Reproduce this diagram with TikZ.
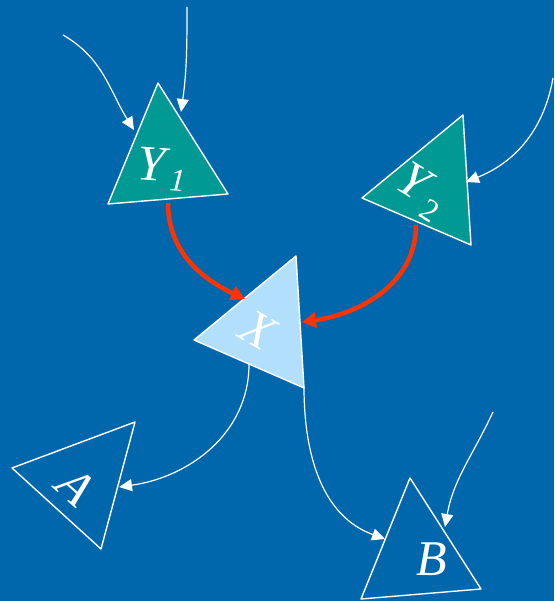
\documentclass[tikz,border=0pt]{standalone}
\usepackage{fontspec}
\setmainfont{Liberation Serif}
\usepackage{tikz}
\usetikzlibrary{calc}
\usetikzlibrary{arrows.meta}

\definecolor{bgblue}{RGB}{0,103,172}
\definecolor{nodeteal}{RGB}{0,153,148}
\definecolor{nodelight}{RGB}{178,223,252}
\definecolor{edgered}{RGB}{255,51,0}

\begin{document}
\begin{tikzpicture}[x=1pt, y=1pt, line join=round,
    tri/.style={draw=white, line width=1.4pt},
    lab/.style={text=white, font=\fontsize{50}{60}\selectfont\itshape, inner sep=0pt},
    wedge/.style={white, line width=1.2pt, -{Triangle[length=13pt,width=12pt]}},
    redge/.style={edgered, line width=4.5pt, -{Triangle[length=14pt,width=15pt]}}]
          \fill[bgblue] (0,0) rectangle (554,601);
          \useasboundingbox (0,0) rectangle (554,601);
          % triangles
          \filldraw[tri, fill=nodeteal] (158,518)--(108,397)--(228,407)--cycle;
          \filldraw[tri, fill=nodeteal] (463,486)--(362,403)--(471,356)--cycle;
          \filldraw[tri, fill=nodelight] (296,345)--(194,261)--(304,213)--cycle;
          \draw[tri] (135,179)--(12,133)--(101,52)--cycle;
          \draw[tri] (410,123)--(361,2)--(481,12)--cycle;
          \node[lab, rotate=-4] (y1) at (162,432) {Y\kern5pt\raisebox{-9pt}{\fontsize{32}{36}\selectfont 1}};
          \node[lab, rotate=-32] (y2) at (421,409) {Y\kern8pt\raisebox{-11pt}{\fontsize{32}{36}\selectfont\upshape 2}};
          \node[lab, rotate=-30] (x) at (258,271) {X};
          \node[lab, rotate=-42] (a) at (76,115) {A};
          \node[lab] (b) at (432,42) {B};
          % connector ends
          \coordinate (s1) at (63,566);
          \coordinate (s2) at (187,594);
          \coordinate (s3) at (553,523);
          \coordinate (s4) at (493,189);
          \coordinate (y1in1) at (134,471);
          \coordinate (y1in2) at (181,489);
          \coordinate (y2in) at (466,419);
          \coordinate (y1out) at (168,398);
          \coordinate (y2out) at (416,376);
          \coordinate (xin1) at (245,302);
          \coordinate (xin2) at (302,279);
          \coordinate (xout1) at (249,237);
          \coordinate (xout2) at (304,214);
          \coordinate (ain) at (119,114);
          \coordinate (bin1) at (385,62);
          \coordinate (bin2) at (445,74);
          \draw[wedge] (s1) to[out=-30, in=122] (y1in1);
          \draw[wedge] (s2) to[out=-90, in=82] (y1in2);
          \draw[wedge] (s3) to[out=-100, in=22] (y2in);
          \draw[redge] (y1out) to[out=-90, in=155] (xin1);
          \draw[redge] (y2out) to[out=-90, in=8] (xin2);
          \draw[wedge] (xout1) to[out=-90, in=8] (ain);
          \draw[wedge] (xout2) to[out=-90, in=160] (bin1);
          \draw[wedge] (s4) to[out=-115, in=80] (bin2);
        \end{tikzpicture}
\end{document}
